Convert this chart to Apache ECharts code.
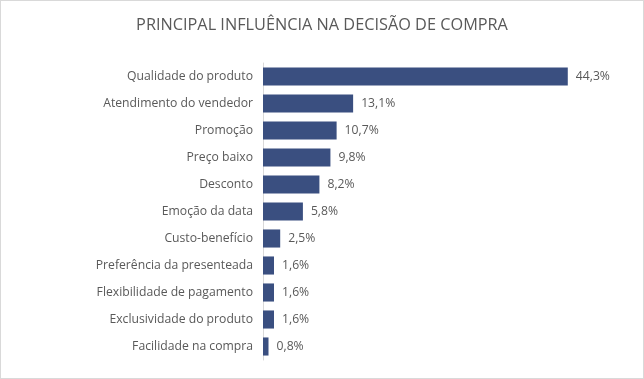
<!DOCTYPE html>
<html><head><meta charset="utf-8">
<script src="https://cdn.jsdelivr.net/npm/echarts@6/dist/echarts.min.js"></script>
<style>html,body{margin:0;padding:0;background:#fff}#c{width:642px;height:377px;border:1px solid #d9d9d9}</style>
</head><body><div id="c"></div>
<script>
const titleText = 'PRINCIPAL INFLUÊNCIA NA DECISÃO DE COMPRA';
const categories = ['Qualidade do produto','Atendimento do vendedor','Promoção','Preço baixo','Desconto','Emoção da data','Custo-benefício','Preferência da presenteada','Flexibilidade de pagamento','Exclusividade do produto','Facilidade na compra'];
const values = [44.3,13.1,10.7,9.8,8.2,5.8,2.5,1.6,1.6,1.6,0.8];
const chart = echarts.init(document.getElementById('c'));
chart.setOption({
  animation:false,
  title:{text:titleText,left:'center',top:11,textStyle:{fontFamily:'Open Sans',fontWeight:'normal',fontSize:16.3,color:'#595959'}},
  grid:{left:262,right:36,top:62,bottom:18},
  xAxis:{type:'value',min:0,max:50,show:false},
  yAxis:{type:'category',data:categories,inverse:true,
    axisLine:{show:true,lineStyle:{color:'#d9d9d9'}},axisTick:{show:false},
    axisLabel:{margin:10,fontFamily:'Open Sans',fontSize:12.2,color:'#595959'}},
  series:[{type:'bar',data:values,barCategoryGap:'33%',itemStyle:{color:'#3A4F80'},
    label:{show:true,position:'right',distance:8,fontFamily:'Open Sans',fontSize:12.2,color:'#595959',
      formatter:p=>p.value.toFixed(1).replace('.',',')+'%'}}]
});
</script></body></html>
